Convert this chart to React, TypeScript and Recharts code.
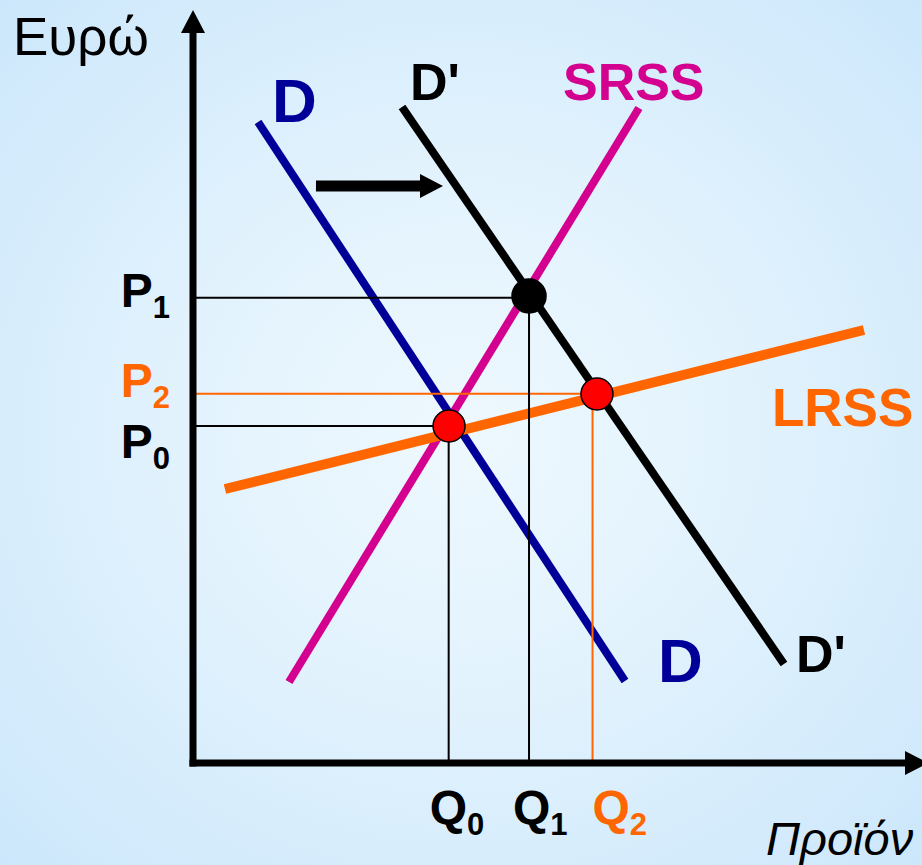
import React from "react";
import { ComposedChart, Line, XAxis, YAxis, ReferenceDot } from "recharts";

// quantity (q) on x, price (p) on y, both
const demandD = [
  { q: 9.03, p: 85.47 },
  { q: 60.0, p: 10.93 },
];
const demandD2 = [
  { q: 29.03, p: 87.47 },
  { q: 82.08, p: 13.2 },
];
const shortRunSupply = [
  { q: 13.33, p: 10.8 },
  { q: 61.94, p: 87.33 },
];
const longRunSupply = [
  { q: 4.44, p: 36.53 },
  { q: 93.19, p: 57.73 },
];
const shiftArrow = [
  { q: 17.08, p: 76.93 },
  { q: 31.53, p: 76.93 },
];

// E0, E1, E2
const equilibria = [
  { q: 35.56, p: 44.93 },
  { q: 46.67, p: 62.27 },
  { q: 56.11, p: 49.2 },
];
const quantityTicks = [35.51, 46.67, 55.49];
const quantityLabels = ["Q0", "Q1", "Q2"];
const priceTicks = [44.93, 62.04, 49.24];
const priceLabels = ["P0", "P1", "P2"];

const xMax = 98.89;
const yMax = 97.33;

const FONT = "'Liberation Sans', Arial, sans-serif";
const BLUE = "#000099";
const MAGENTA = "#d4008f";
const ORANGE = "#ff6600";
const levelColor = ["#000", "#000", ORANGE];
const dotColor = ["#ff0000", "#000", "#ff0000"];
const qNudge = [-19, -16, 0];
const pNudge = [32, 9, 3];

const PriceTick = (props: any) => {
  const i = priceTicks.indexOf(props.payload.value);
  if (i < 0) return <g />;
  const label = priceLabels[i];
  return (
    <text x={props.x - 23} y={props.y + pNudge[i]} textAnchor="end" fontFamily={FONT} fontWeight="bold" fontSize={48} fill={levelColor[i]}>
      {label[0]}
      <tspan fontSize={31} dy={11}>{label.slice(1)}</tspan>
    </text>
  );
};

const QuantityTick = (props: any) => {
  const i = quantityTicks.indexOf(props.payload.value);
  if (i < 0) return <g />;
  const label = quantityLabels[i];
  return (
    <text x={props.x + qNudge[i]} y={props.y + 61} textAnchor="start" fontFamily={FONT} fontWeight="bold" fontSize={48} fill={levelColor[i]}>
      {label[0]}
      <tspan fontSize={31} dy={11}>{label.slice(1)}</tspan>
    </text>
  );
};

const tag = (text: string, color: string, size: number, dx: number, dy: number, extra: any = {}) => (props: any) => (
  <text x={props.cx + dx} y={props.cy + dy} fill={color} fontSize={size} fontFamily={FONT} fontWeight="bold" {...extra}>
    {text}
  </text>
);

const upHead = (props: any) => (
  <polygon points={`${props.cx - 12},${props.cy} ${props.cx + 12},${props.cy} ${props.cx},${props.cy - 23}`} fill="#000" />
);
const rightHead = (props: any) => (
  <polygon points={`${props.cx},${props.cy - 12} ${props.cx},${props.cy + 12} ${props.cx + 23},${props.cy}`} fill="#000" />
);

const curve = (key: string, data: any[], color: string, width: number) => (
  <Line key={key} type="linear" data={data} dataKey="p" stroke={color} strokeWidth={width} dot={false} activeDot={false} isAnimationActive={false} />
);

export default function App() {
  return (
    <div
      style={{
        position: "absolute",
        left: 0,
        top: 0,
        width: 922,
        height: 865,
        background: "radial-gradient(ellipse at 50% 50%, #eef8fe 0%, #e3f3fd 40%, #cce7fb 100%)",
      }}
    >
      <ComposedChart width={922} height={865} margin={{ top: 33, right: 17, bottom: 0, left: 0 }}>
        <XAxis
          type="number"
          dataKey="q"
          domain={[0, xMax]}
          allowDataOverflow
          ticks={quantityTicks}
          interval={0}
          tick={<QuantityTick />}
          tickLine={false}
          tickSize={0}
          tickMargin={0}
          height={102}
          axisLine={{ stroke: "#000", strokeWidth: 7, strokeLinecap: "square" }}
        />
        <YAxis
          type="number"
          dataKey="p"
          domain={[0, yMax]}
          allowDataOverflow
          ticks={priceTicks}
          interval={0}
          tick={<PriceTick />}
          tickLine={false}
          tickSize={0}
          tickMargin={0}
          width={193}
          axisLine={{ stroke: "#000", strokeWidth: 7, strokeLinecap: "square" }}
        />

        {curve("D", demandD, BLUE, 8)}
        {curve("D2", demandD2, "#000", 8)}
        {curve("SRSS", shortRunSupply, MAGENTA, 8)}
        {curve("LRSS", longRunSupply, ORANGE, 10)}
        {curve("shift", shiftArrow, "#000", 11)}

        {equilibria.map((e, i) =>
          curve("h" + i, [{ q: 0, p: priceTicks[i] }, { q: e.q, p: priceTicks[i] }], levelColor[i], 2)
        )}
        {equilibria.map((e, i) =>
          curve("v" + i, [{ q: quantityTicks[i], p: 0 }, { q: quantityTicks[i], p: e.p }], levelColor[i], 2)
        )}

        {equilibria.map((e, i) => (
          <ReferenceDot key={"e" + i} x={e.q} y={e.p} r={i === 1 ? 17 : 16} fill={dotColor[i]} stroke="#000" strokeWidth={1.5} ifOverflow="visible" />
        ))}

        <ReferenceDot x={shiftArrow[1].q} y={shiftArrow[1].p} r={0} ifOverflow="visible" shape={rightHead} />
        <ReferenceDot x={0} y={yMax} r={0} ifOverflow="visible" shape={upHead} />
        <ReferenceDot x={xMax} y={0} r={0} ifOverflow="visible" shape={rightHead} />

        <ReferenceDot x={demandD[0].q} y={demandD[0].p} r={0} ifOverflow="visible" shape={tag("D", BLUE, 62, 14, 0)} />
        <ReferenceDot x={demandD[1].q} y={demandD[1].p} r={0} ifOverflow="visible" shape={tag("D", BLUE, 62, 33, 1)} />
        <ReferenceDot x={demandD2[0].q} y={demandD2[0].p} r={0} ifOverflow="visible" shape={tag("D'", "#000", 52, 8, -7)} />
        <ReferenceDot x={demandD2[1].q} y={demandD2[1].p} r={0} ifOverflow="visible" shape={tag("D'", "#000", 52, 12, 8)} />
        <ReferenceDot x={shortRunSupply[1].q} y={shortRunSupply[1].p} r={0} ifOverflow="visible" shape={tag("SRSS", MAGENTA, 52, -76, -8)} />
        <ReferenceDot x={longRunSupply[1].q} y={longRunSupply[1].p} r={0} ifOverflow="visible" shape={tag("LRSS", ORANGE, 53, -92, 96)} />
        <ReferenceDot x={0} y={yMax} r={0} ifOverflow="visible" shape={tag("Ευρώ", "#000", 53, -180, 22, { fontWeight: "normal" })} />
        <ReferenceDot x={xMax} y={0} r={0} ifOverflow="visible" shape={tag("Προϊόν", "#000", 47, -139, 92, { fontWeight: "normal", fontStyle: "italic" })} />
      </ComposedChart>
    </div>
  );
}
